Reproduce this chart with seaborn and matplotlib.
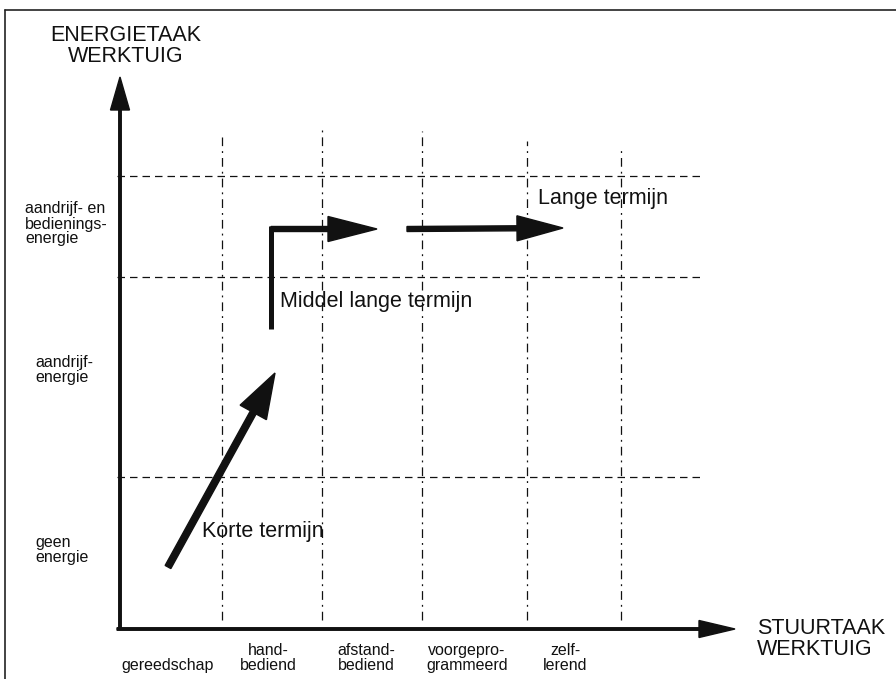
import matplotlib
matplotlib.use("Agg")
import matplotlib.pyplot as plt
import seaborn as sns
import pandas as pd

# ---- data (diagram units: 1 unit = one column / row step) ----
x_categories = ["\ngereedschap", "hand-\nbediend", "afstand-\nbediend",
                "voorgepro-\ngrammeerd", "zelf-\nlerend"]
x_label_pos = [0.48, 1.48, 2.46, 3.47, 4.45]
x_col_bounds = [1.02, 2.02, 3.02, 4.07, 5.01]          # vertical dashed lines
x_col_tops = [4.92, 5.00, 4.98, 4.88, 4.81]
x_col_bottom = 0.09

y_categories = ["geen\nenergie", "aandrijf-\nenergie",
                "aandrijf- en\nbedienings-\nenergie"]
y_label_pos = [0.79, 2.59, 4.05]
y_row_bounds = [1.52, 3.52, 4.53]                    # horizontal dashed lines
grid_x_start, grid_x_end = -0.03, 5.83

x_axis_end = 6.15
y_axis_end = 5.52

# development arrows (start, end)
korte = dict(start=(0.48, 0.62), end=(1.55, 2.56), label="Korte termijn",
             label_pos=(0.82, 0.97))
middel_vert = dict(start=(1.51, 3.0), end=(1.51, 4.0))
middel = dict(start=(1.51, 4.0), end=(2.57, 4.0), label="Middel lange termijn",
              label_pos=(1.60, 3.28))
lange = dict(start=(2.87, 4.0), end=(4.43, 4.01), label="Lange termijn",
             label_pos=(4.18, 4.31))

y_title = "ENERGIETAAK\nWERKTUIG"
x_title = "STUURTAAK\nWERKTUIG"

# ---- figure ----
sns.set_theme(style="white")
plt.rcParams["font.family"] = ["Liberation Sans", "DejaVu Sans"]

fig = plt.figure(figsize=(8.96, 6.79), dpi=100)
ax = fig.add_axes([0, 0, 1, 1])
ax.set_xlim(-1.2, 7.76)
ax.set_ylim(-0.5, 6.29)
ax.axis("off")

ink = "#111111"


def seg(x0, y0, x1, y1, **kw):
    df = pd.DataFrame({"x": [x0, x1], "y": [y0, y1]})
    sns.lineplot(data=df, x="x", y="y", ax=ax, sort=False, estimator=None,
                 errorbar=None, **kw)


# horizontal dashed grid lines
for yb in y_row_bounds:
    seg(grid_x_start, yb, grid_x_end, yb, color=ink, lw=0.9,
        linestyle=(0, (6, 4)))

# vertical dashed grid lines
for xb, top in zip(x_col_bounds, x_col_tops):
    seg(xb, x_col_bottom, xb, top, color=ink, lw=0.9,
        linestyle=(0, (7, 4, 1.5, 4)))

# axes arrows
ax.arrow(0, 0, 0, y_axis_end, width=0.025, head_width=0.19, head_length=0.33,
         length_includes_head=True, fc=ink, ec=ink, zorder=5)
ax.arrow(-0.03, 0, x_axis_end + 0.03, 0, width=0.025, head_width=0.17,
         head_length=0.36, length_includes_head=True, fc=ink, ec=ink, zorder=5)


# development arrows
def draw_arrow(spec, width, hw, hl):
    (x0, y0), (x1, y1) = spec["start"], spec["end"]
    ax.arrow(x0, y0, x1 - x0, y1 - y0, width=width, head_width=hw,
             head_length=hl, length_includes_head=True, fc=ink, ec=ink,
             zorder=6)


draw_arrow(korte, 0.065, 0.30, 0.45)
seg(middel_vert["start"][0], middel_vert["start"][1],
    middel_vert["end"][0], middel_vert["end"][1] + 0.025,
    color=ink, lw=3.6, solid_capstyle="butt")
draw_arrow(middel, 0.05, 0.25, 0.49)
draw_arrow(lange, 0.05, 0.25, 0.46)

# arrow labels
for spec in (korte, middel, lange):
    ax.text(*spec["label_pos"], spec["label"], fontsize=15.5, color=ink,
            ha="left", va="center", zorder=7)

# category labels
for lab, xp in zip(x_categories, x_label_pos):
    ax.text(xp, -0.29, lab, fontsize=11.5, color=ink, ha="center",
            va="center", linespacing=1.0)
for lab, yp in zip(y_categories, y_label_pos):
    ax.text(-0.95 if "bedienings" in lab else -0.85, yp, lab, fontsize=11.5,
            color=ink, ha="left", va="center", linespacing=1.0)

# axis titles
ax.text(0.06, 5.83, y_title, fontsize=15.5, color=ink, ha="center",
        va="center", linespacing=1.0)
ax.text(6.37, -0.10, x_title, fontsize=15.5, color=ink, ha="left",
        va="center", linespacing=1.0)

# scan frame (left and top edges)
ax.plot([-1.15, -1.15], [-0.5, 6.19], color="#222222", lw=1.2)
ax.plot([-1.15, 7.76], [6.19, 6.19], color="#222222", lw=1.2)

ax.set_xlabel("")
ax.set_ylabel("")
fig.savefig("out.png", dpi=100)
